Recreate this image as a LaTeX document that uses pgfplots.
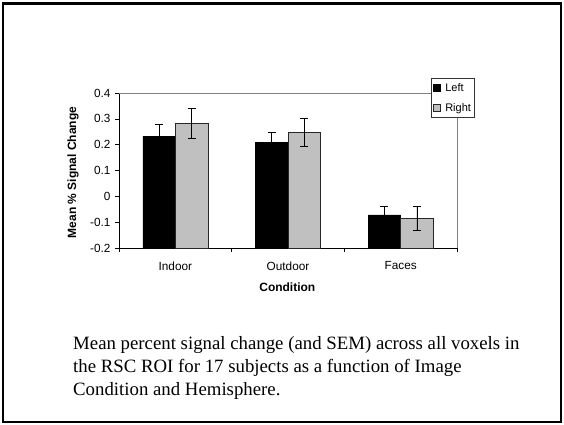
\documentclass[border=0pt]{standalone}
\usepackage{fontspec}
\setmainfont{Liberation Serif}
\newfontfamily\arial{Liberation Sans}
\usepackage{pgfplots}
\pgfplotsset{compat=1.18}
\definecolor{barGray}{HTML}{C0C0C0}
\pgfplotsset{myerr/.style={error bars/.cd, y dir=both, y explicit,
    error bar style={black, line width=0.6pt},
    error mark options={rotate=90, mark size=4pt, line width=0.6pt, black}}}
\begin{document}
\begin{tikzpicture}[x=1pt,y=1pt]
\useasboundingbox (0,0) rectangle (564,424);
\draw[line width=2.2pt] (3,2) rectangle (561,420.5);
\begin{axis}[
  at={(119pt,176pt)}, anchor=south west,
  scale only axis, width=338pt, height=155pt,
  clip=false,
  axis lines*=left,
  axis line style={black, line width=0.8pt},
  y coord trafo/.code={\pgfmathparse{#1+0.2}},
  y coord inv trafo/.code={\pgfmathparse{#1-0.2}},
  ymin=-0.2, ymax=0.4,
  xmin=-0.5, xmax=2.5,
  ytick={-0.2,-0.1,0,0.1,0.2,0.3,0.4},
  yticklabels={-0.2,-0.1,0,0.1,0.2,0.3,0.4},
  xtick={-0.5,0.5,1.5,2.5}, xticklabels={},
  extra x ticks={0,1,2},
  extra x tick labels={Indoor,Outdoor,Faces},
  extra x tick style={major tick length=0pt, xticklabel style={yshift=-10pt}},
  tick align=outside, major tick length=4pt,
  tick style={black, line width=0.6pt},
  tick label style={font=\arial\fontsize{11.8}{13}\selectfont},
  yticklabel style={xshift=-1pt},
  every axis y label/.style={at={(axis description cs:-0.136,0.487)}, rotate=90, anchor=center},
  every axis x label/.style={at={(axis description cs:0.498,-0.252)}, anchor=center},
  label style={font=\arial\bfseries\fontsize{12}{14}\selectfont},
  ylabel={Mean \% Signal Change},
  xlabel={Condition},
  ybar=0pt, bar width=32.5pt,
  legend style={at={(rel axis cs:0.923,1.097)}, anchor=north west,
    draw=black!80, line width=0.6pt, fill=white,
    font=\arial\fontsize{11}{12}\selectfont,
    inner xsep=1.5pt, inner ysep=3pt, row sep=6.5pt,
    /tikz/every odd column/.append style={column sep=3pt},
    cells={anchor=west}},
  legend image code/.code={\draw[#1, line width=0.5pt] (0pt,-3.5pt) rectangle (7pt,3.5pt);},
]
\draw[gray, line width=0.8pt] (rel axis cs:0,1) -- (rel axis cs:1,1) -- (rel axis cs:1,0);
\addplot[draw=black, fill=black, line width=0.5pt, myerr] coordinates {
  (0,0.233) +- (0,0.047)
  (1,0.209) +- (0,0.040)
  (2,-0.072) +- (0,0.033)
};
\addplot[draw=black!85, fill=barGray, line width=0.5pt, myerr] coordinates {
  (0,0.283) +- (0,0.058)
  (1,0.249) +- (0,0.055)
  (2,-0.086) +- (0,0.046)
};
\legend{Left,Right}
\end{axis}
\node[anchor=base west, inner sep=0pt, font=\fontsize{18.8}{23}\selectfont] at (73,75) {Mean percent signal change (and SEM) across all voxels in};
\node[anchor=base west, inner sep=0pt, font=\fontsize{18.8}{23}\selectfont] at (73,51.3) {the RSC ROI for 17 subjects as a function of Image};
\node[anchor=base west, inner sep=0pt, font=\fontsize{18.8}{23}\selectfont] at (73,29) {Condition and Hemisphere.};
\end{tikzpicture}
\end{document}
